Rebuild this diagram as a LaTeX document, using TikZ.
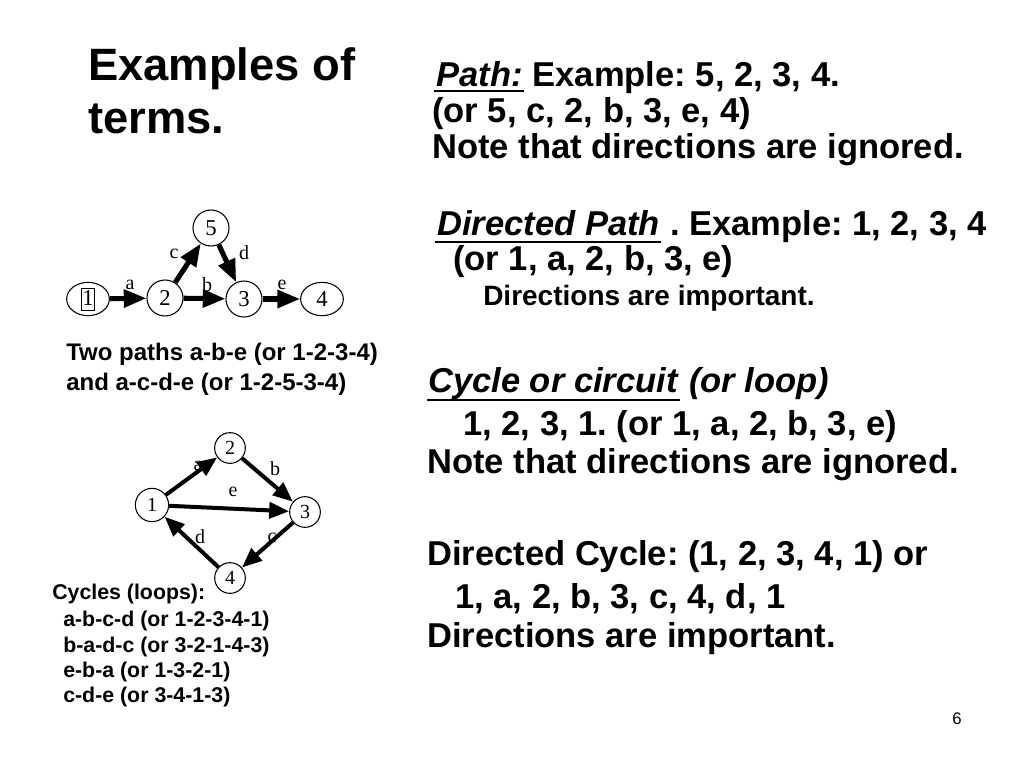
\documentclass[tikz,border=0pt]{standalone}
\usepackage{fontspec}
\setmainfont{Liberation Sans}
\newfontfamily\timesfont{Liberation Serif}
\usetikzlibrary{arrows.meta, shapes.geometric}
\frenchspacing

\begin{document}
\begin{tikzpicture}[x=0.75pt, y=-0.75pt,
		txt/.style={anchor=base west, inner sep=0pt, font=\bfseries\fontsize{25.9}{30}\selectfont},
		title/.style={txt, font=\bfseries\fontsize{34}{40}\selectfont},
		midtxt/.style={txt, font=\bfseries\fontsize{21}{25}\selectfont},
		captxt/.style={txt, font=\bfseries\fontsize{18}{22}\selectfont},
		cyctxt/.style={txt, font=\bfseries\fontsize{16}{19}\selectfont},
		uline/.style={line width=1.2pt},
		vtx/.style={circle, draw, line width=0.8pt, inner sep=0pt, minimum size=27pt, font=\timesfont\fontsize{17}{17}\selectfont},
		wvtx/.style={vtx, ellipse, minimum width=32pt, minimum height=25pt},
		svtx/.style={vtx, minimum size=23pt, font=\timesfont\fontsize{15}{15}\selectfont},
		elbl/.style={inner sep=0pt, font=\timesfont\fontsize{15}{15}\selectfont},
		arcA/.style={line width=3.8pt, -{Triangle[length=17pt, width=13pt]}},
		arcB/.style={line width=3pt, -{Triangle[length=15pt, width=12pt]}}]
		\useasboundingbox (0, 0) rectangle (1024, 768);
		
		\node[title] (t1) at (88, 80) {Examples of};
		\node[title] (t2) at (88, 133) {terms.};
		
		\node[txt] (path) at (436, 86) {\textit{Path:}};
		\node[txt] (path2) at (path.base east) {~Example: 5, 2, 3, 4.};
		\node[txt] (r2) at (432, 122) {(or 5, c, 2, b, 3, e, 4)};
		\node[txt] (r3) at (432, 158) {Note that directions are ignored.};
		\node[txt] (dpath) at (437, 235) {\textit{Directed Path}};
		\node[txt] (dpath2) at (dpath.base east) {~. Example: 1, 2, 3, 4};
		\node[txt] (r5) at (453, 270) {(or 1, a, 2, b, 3, e)};
		\node[midtxt] (r6) at (483, 305) {Directions are important.};
		\node[txt] (cyc) at (428, 392) {\textit{Cycle or circuit}};
		\node[txt] (cyc2) at (cyc.base east) {\textit{~(or loop)}};
		\node[txt] (r8) at (463, 435) {1, 2, 3, 1. (or 1, a, 2, b, 3, e)};
		\node[txt] (r9) at (427, 473) {Note that directions are ignored.};
		\node[txt] (r10) at (427, 565) {Directed Cycle: (1, 2, 3, 4, 1) or};
		\node[txt] (r11) at (455, 608) {1, a, 2, b, 3, c, 4, d, 1};
		\node[txt] (r12) at (427, 647) {Directions are important.};
		
		\draw[uline] ([shift={(-2, 5)}]path.base west) -- ([shift={(1, 5)}]path.base east);
		\draw[uline] ([shift={(-2, 7)}]dpath.base west) -- ([shift={(1, 7)}]dpath.base east);
		\draw[uline] ([shift={(-1, 8)}]cyc.base west) -- ([shift={(1, 8)}]cyc.base east);
		
		\node[captxt] (c1) at (66, 360) {Two paths a-b-e (or 1-2-3-4)};
		\node[captxt] (c2) at (66, 390) {and a-c-d-e (or 1-2-5-3-4)};
		
		\node[cyctxt] (k0) at (52, 599) {Cycles (loops):};
		\node[cyctxt] (k1) at (63, 626) {a-b-c-d (or 1-2-3-4-1)};
		\node[cyctxt] (k2) at (63, 652) {b-a-d-c (or 3-2-1-4-3)};
		\node[cyctxt] (k3) at (63, 677) {e-b-a (or 1-3-2-1)};
		\node[cyctxt] (k4) at (63, 702) {c-d-e (or 3-4-1-3)};
		
		\node[txt, font=\fontsize{12.6}{14}\selectfont] (pg) at (952, 724) {6};
		
		\node[wvtx] (p1) at (88, 299) {\fboxsep=0.6pt\fboxrule=0.5pt\fbox{\rule[-3pt]{0pt}{15pt}1}};
		\foreach \n/\x/\y in {2/165/298, 3/244/299, 5/211/228} \node[vtx] (p\n) at (\x, \y) {\n};
		\node[wvtx] (p4) at (322, 299) {4};
		\foreach \s/\t in {p1/p2, p2/p3, p3/p4, p2/p5, p5/p3} \draw[arcA] (\s) -- (\t);
		\foreach \l/\x/\y in {a/130/285, b/207/285, e/282/285, c/174/254, d/244/253} \node[elbl] (pl\l) at (\x, \y) {\l};
		
		\node[svtx, minimum width=25pt] (q1) at (152, 505) {1};
		\foreach \n/\x/\y in {2/230/448, 3/305/512, 4/230/578} \node[svtx] (q\n) at (\x, \y) {\n};
		\foreach \s/\t in {q1/q2, q2/q3, q1/q3, q3/q4, q4/q1} \draw[arcB] (\s) -- (\t);
		\foreach \l/\x/\y in {a/198/466, b/275/469, e/233/492, c/272/538, d/200/537} \node[elbl] (ql\l) at (\x, \y) {\l};
\end{tikzpicture}
\end{document}
